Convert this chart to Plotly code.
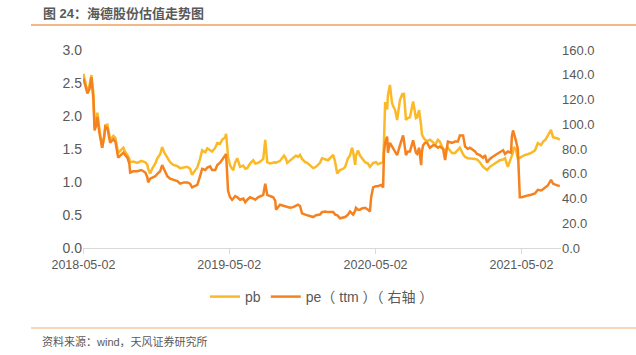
import plotly.graph_objects as go

dates = [
    "2018-05-02", "2018-05-07", "2018-05-12", "2018-05-17", "2018-05-22", "2018-05-27", "2018-05-30",
    "2018-06-04", "2018-06-06", "2018-06-11", "2018-06-18", "2018-06-23", "2018-06-26", "2018-07-01",
    "2018-07-08", "2018-07-16", "2018-07-21", "2018-07-28", "2018-08-05", "2018-08-10", "2018-08-15",
    "2018-08-20", "2018-08-25", "2018-08-27", "2018-09-04", "2018-09-14", "2018-09-24", "2018-10-04",
    "2018-10-09", "2018-10-11", "2018-10-16", "2018-10-21", "2018-10-29", "2018-11-03", "2018-11-10",
    "2018-11-15", "2018-11-20", "2018-11-28", "2018-12-05", "2018-12-13", "2018-12-23", "2018-12-30",
    "2019-01-09", "2019-01-17", "2019-01-24", "2019-01-29", "2019-02-06", "2019-02-11", "2019-02-18",
    "2019-02-23", "2019-03-03", "2019-03-08", "2019-03-15", "2019-03-20", "2019-03-28", "2019-04-02",
    "2019-04-09", "2019-04-14", "2019-04-22", "2019-04-24", "2019-04-29", "2019-05-04", "2019-05-09",
    "2019-05-12", "2019-05-17", "2019-05-22", "2019-05-29", "2019-06-06", "2019-06-11", "2019-06-16",
    "2019-06-23", "2019-07-01", "2019-07-06", "2019-07-13", "2019-07-21", "2019-07-26", "2019-07-31",
    "2019-08-05", "2019-08-12", "2019-08-20", "2019-08-25", "2019-08-27", "2019-09-06", "2019-09-16",
    "2019-09-21", "2019-09-24", "2019-10-01", "2019-10-09", "2019-10-16", "2019-10-21", "2019-10-26",
    "2019-10-31", "2019-11-08", "2019-11-13", "2019-11-20", "2019-11-28", "2019-12-05", "2019-12-15",
    "2019-12-20", "2019-12-28", "2020-01-04", "2020-01-09", "2020-01-17", "2020-01-22", "2020-01-27",
    "2020-02-03", "2020-02-11", "2020-02-16", "2020-02-23", "2020-02-28", "2020-03-04", "2020-03-07",
    "2020-03-12", "2020-03-14", "2020-03-19", "2020-03-24", "2020-03-29", "2020-04-06", "2020-04-13",
    "2020-04-18", "2020-04-21", "2020-04-26", "2020-05-03", "2020-05-08", "2020-05-16", "2020-05-21",
    "2020-05-23", "2020-05-26", "2020-05-31", "2020-06-02", "2020-06-07", "2020-06-12", "2020-06-15",
    "2020-06-20", "2020-06-25", "2020-07-02", "2020-07-07", "2020-07-10", "2020-07-12", "2020-07-17",
    "2020-07-22", "2020-07-27", "2020-08-04", "2020-08-11", "2020-08-14", "2020-08-19", "2020-08-24",
    "2020-08-26", "2020-08-29", "2020-09-03", "2020-09-08", "2020-09-15", "2020-09-23", "2020-09-28",
    "2020-10-05", "2020-10-10", "2020-10-18", "2020-10-23", "2020-10-30", "2020-11-09", "2020-11-17",
    "2020-11-24", "2020-11-29", "2020-12-07", "2020-12-12", "2020-12-19", "2020-12-24", "2021-01-06",
    "2021-01-11", "2021-01-18", "2021-01-26", "2021-01-31", "2021-02-05", "2021-02-12", "2021-02-20",
    "2021-03-02", "2021-03-09", "2021-03-17", "2021-03-22", "2021-03-29", "2021-04-06", "2021-04-08",
    "2021-04-11", "2021-04-13", "2021-04-18", "2021-04-23", "2021-04-26", "2021-04-28", "2021-05-03",
    "2021-05-11", "2021-05-18", "2021-05-26", "2021-06-05", "2021-06-12", "2021-06-20", "2021-06-25",
    "2021-07-02", "2021-07-07", "2021-07-15", "2021-07-20", "2021-07-27", "2021-08-01", "2021-08-06",
]

pb = [
    2.64, 2.50, 2.37, 2.45, 2.62, 2.35, 1.83,
    1.95, 2.05, 1.80, 1.52, 1.70, 1.86, 1.87,
    1.64, 1.70, 1.67, 1.44, 1.50, 1.52, 1.45,
    1.41, 1.35, 1.30, 1.31, 1.29, 1.32, 1.30,
    1.26, 1.20, 1.13, 1.20, 1.28, 1.36, 1.42,
    1.53, 1.45, 1.36, 1.30, 1.26, 1.24, 1.21,
    1.22, 1.23, 1.20, 1.11, 1.18, 1.22, 1.35,
    1.48, 1.45, 1.51, 1.48, 1.46, 1.52, 1.59,
    1.58, 1.64, 1.68, 1.73, 1.38, 1.25, 1.20,
    1.18, 1.30, 1.36, 1.23, 1.25, 1.20, 1.21,
    1.28, 1.33, 1.28, 1.29, 1.32, 1.35, 1.64,
    1.30, 1.28, 1.29, 1.30, 1.29, 1.32, 1.40,
    1.35, 1.29, 1.33, 1.36, 1.40, 1.38, 1.41,
    1.35, 1.30, 1.29, 1.25, 1.21, 1.23, 1.29,
    1.36, 1.35, 1.33, 1.36, 1.41, 1.30, 1.13,
    1.18, 1.20, 1.23, 1.36, 1.40, 1.52, 1.45,
    1.26, 1.40, 1.48, 1.40, 1.36, 1.30, 1.28,
    1.23, 1.25, 1.29, 1.30, 1.27, 1.29, 1.30,
    1.60, 2.21, 2.10, 2.32, 2.47, 2.20, 2.15,
    2.09, 1.94, 2.24, 2.32, 2.30, 2.35, 1.94,
    1.97, 1.98, 2.22, 1.97, 1.98, 2.09, 1.85,
    1.72, 1.68, 1.64, 1.62, 1.64, 1.60, 1.56,
    1.64, 1.61, 1.50, 1.48, 1.52, 1.44, 1.44,
    1.48, 1.52, 1.42, 1.38, 1.36, 1.36, 1.35,
    1.34, 1.30, 1.23, 1.20, 1.18, 1.23, 1.26,
    1.30, 1.33, 1.34, 1.36, 1.23, 1.35, 1.41,
    1.45, 1.53, 1.50, 1.35, 1.36, 1.36, 1.38,
    1.41, 1.42, 1.44, 1.48, 1.59, 1.56, 1.61,
    1.65, 1.71, 1.79, 1.68, 1.67, 1.66, 1.64,
]

pe_ttm = [
    137, 131, 125, 128, 138, 120, 95,
    100, 106, 93, 81, 90, 98, 97,
    85, 88, 86, 73, 76, 77, 75,
    73, 68, 61, 62, 62, 63, 61,
    57, 53, 56, 57, 58, 60, 62,
    67, 64, 58, 56, 55, 54, 52,
    53, 53, 52, 49, 50, 51, 58,
    64, 63, 65, 66, 63, 63, 67,
    69, 71, 75, 76, 46, 41, 39,
    40, 42, 41, 39, 40, 37, 39,
    41, 40, 39, 41, 42, 43, 52,
    43, 42, 41, 38, 31, 35, 34,
    33, 33, 32.5, 33, 34, 35, 34,
    28, 27, 26.5, 26, 25, 26.5, 27,
    29, 29.5, 29, 29, 29, 27, 26.5,
    24, 25, 25, 27, 29.5, 28, 27,
    30, 32.5, 31, 31, 32, 32.5, 31,
    29.5, 41, 49, 50, 50, 51, 49,
    77, 85, 90, 77, 85, 82, 80,
    78, 75, 83, 89, 91, 87, 75,
    78, 78, 87, 77, 76, 81, 67,
    78, 83, 85, 85, 81, 83, 83,
    81, 82, 80, 71, 86, 85, 86,
    86, 91, 91, 82, 80, 81, 78,
    76, 75, 73, 75, 69, 72, 74,
    76, 77, 79, 76, 78, 77, 90,
    95, 92, 87, 80, 60, 41, 41,
    42, 42.5, 43, 44, 47, 46.5, 47.5,
    49, 50.5, 55, 52, 51, 50.5, 50,
]

x_ticks = ["2018-05-02", "2019-05-02", "2020-05-02", "2021-05-02"]
left_ticks = [0.0, 0.5, 1.0, 1.5, 2.0, 2.5, 3.0]
right_ticks = [0, 20, 40, 60, 80, 100, 120, 140, 160]

YELLOW = "#FBB927"
ORANGE = "#F5821F"
GRAY = "#595959"
FONT = "Liberation Sans, Noto Sans CJK SC, sans-serif"

fig = go.Figure()
fig.add_trace(go.Scatter(x=dates, y=pb, name="pb", mode="lines",
                         line=dict(color=YELLOW, width=2.5)))
fig.add_trace(go.Scatter(x=dates, y=pe_ttm, name="pe（ ttm ）（ 右轴 ）", mode="lines",
                         line=dict(color=ORANGE, width=2.5), yaxis="y2"))

fig.update_layout(
    width=636, height=355,
    margin=dict(l=83, r=75, t=50, b=107, autoexpand=False),
    paper_bgcolor="white", plot_bgcolor="white",
    font=dict(family=FONT, color=GRAY, size=13),
    showlegend=True,
    legend=dict(orientation="h", x=0.5, xanchor="center", y=-49/198, yanchor="middle",
                font=dict(size=14, color=GRAY), itemwidth=30, traceorder="normal"),
    xaxis=dict(type="date", range=["2018-05-01", "2021-08-09"],
               tickvals=x_ticks, ticktext=x_ticks,
               showgrid=False, zeroline=False,
               showline=True, linecolor="#D9D9D9", linewidth=1,
               ticks="outside", ticklen=5, tickcolor="#D9D9D9",
               tickfont=dict(size=12.5, color=GRAY)),
    yaxis=dict(range=[0, 3], tickvals=left_ticks,
               ticktext=[f"{v:.1f}" for v in left_ticks],
               showgrid=False, zeroline=False, showline=False,
               ticks="", tickfont=dict(size=14, color=GRAY)),
    yaxis2=dict(range=[0, 160], tickvals=right_ticks,
                ticktext=[f"{v:.1f}" for v in right_ticks],
                overlaying="y", side="right",
                showgrid=False, zeroline=False, showline=False,
                ticks="", tickfont=dict(size=13, color=GRAY)),
    shapes=[
        dict(type="line", xref="paper", yref="paper", x0=-52/478, x1=553/478,
             y0=1 + 25/198, y1=1 + 25/198, line=dict(color="#F0A060", width=1.5)),
        dict(type="line", xref="paper", yref="paper", x0=-52/478, x1=553/478,
             y0=-80/198, y1=-80/198, line=dict(color="#F9C8A0", width=1.5)),
    ],
    annotations=[
        dict(text="<b>图 24：海德股份估值走势图</b>", xref="paper", yref="paper",
             x=-42/478, y=1 + 37/198, xanchor="left", yanchor="middle",
             showarrow=False, font=dict(size=13, color=GRAY)),
        dict(text="资料来源：wind，天风证券研究所", xref="paper", yref="paper",
             x=-43/478, y=-93/198, xanchor="left", yanchor="middle",
             showarrow=False, font=dict(size=11, color=GRAY)),
    ],
)

fig.write_html("out.html")
